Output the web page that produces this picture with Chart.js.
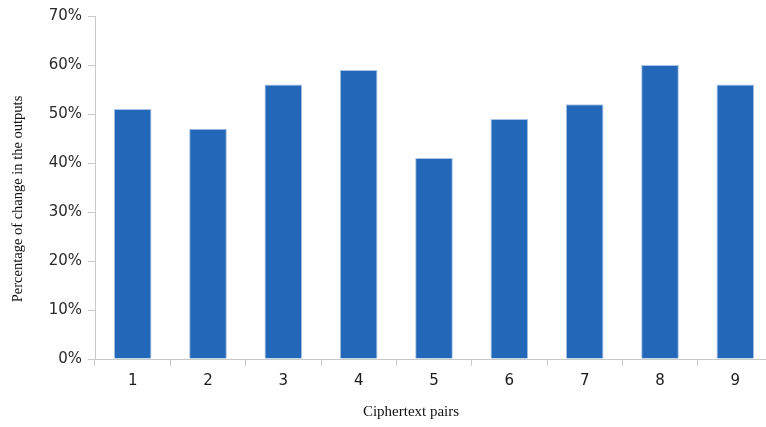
<!DOCTYPE html>
<html>
<head>
<meta charset="utf-8">
<script src="https://cdn.jsdelivr.net/npm/chart.js@4/dist/chart.umd.min.js"></script>
<style>
  html, body { margin: 0; padding: 0; background: #fff; overflow: hidden; }
  .box { width: 780px; height: 427px; position: relative; }
</style>
</head>
<body>
<div class="box"><canvas id="myChart"></canvas></div>
<script>
// данные графика
const pairs = ['1', '2', '3', '4', '5', '6', '7', '8', '9'];
const changePct = [51, 47, 56, 59, 41, 49, 52, 60, 56];
const yTicks = [0, 10, 20, 30, 40, 50, 60, 70];
const xTitle = 'Ciphertext pairs';
const yTitle = 'Percentage of change in the outputs';

const axisColor = '#c8c8c8';
const tickFont = { family: 'DejaVu Sans', size: 15 };

// подписи осей рисуем сами, чтобы поставить их как в оригинале
const axisTitles = {
  id: 'axisTitles',
  afterDraw(chart) {
    const c = chart.ctx;
    c.save();
    c.fillStyle = '#111';
    c.textAlign = 'center';
    c.textBaseline = 'middle';
    c.font = '15px "Liberation Serif"';
    c.fillText(xTitle, 411, 412);
    c.translate(18, 199);
    c.rotate(-Math.PI / 2);
    c.font = '14.5px "Liberation Serif"';
    c.fillText(yTitle, 0, 0);
    c.restore();
  }
};

const ctx = document.getElementById('myChart').getContext('2d');
new Chart(ctx, {
  type: 'bar',
  data: {
    labels: pairs,
    datasets: [{
      data: changePct,
      backgroundColor: '#2368b8',
      borderColor: '#a9c4e6',
      borderWidth: 1,
      barPercentage: 0.5,
      categoryPercentage: 1
    }]
  },
  options: {
    responsive: true,
    maintainAspectRatio: false,
    animation: false,
    layout: { padding: { top: 16, right: 7, left: 0, bottom: 0 } },
    plugins: { legend: { display: false }, tooltip: { enabled: false } },
    scales: {
      x: {
        grid: { drawOnChartArea: false, color: axisColor, tickLength: 7, offset: true },
        border: { color: axisColor },
        ticks: { color: '#1a1a1a', font: tickFont, padding: 6 },
        afterFit: s => { s.height = 68; }
      },
      y: {
        min: 0,
        max: 70,
        afterBuildTicks: s => { s.ticks = yTicks.map(v => ({ value: v })); },
        grid: { drawOnChartArea: false, color: axisColor, tickLength: 7 },
        border: { color: axisColor },
        ticks: { color: '#2a2a2a', font: tickFont, padding: 6, callback: v => v + '%' },
        afterFit: s => { s.width = 95; }
      }
    }
  },
  plugins: [axisTitles]
});
</script>
</body>
</html>
